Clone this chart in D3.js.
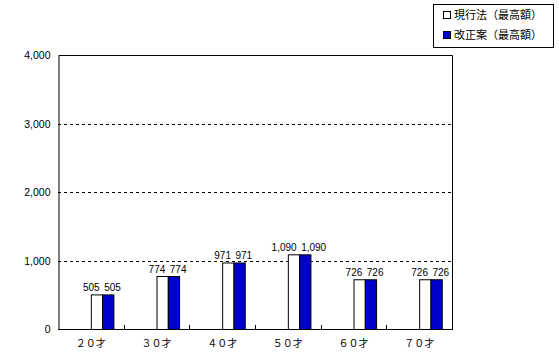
<!DOCTYPE html>
<html>
<head>
<meta charset="utf-8">
<script src="https://cdn.jsdelivr.net/npm/d3@7"></script>
<style>
body{margin:0;background:#fff;}
svg{display:block;}
text{font-family:"Liberation Sans",Arial,sans-serif;fill:#000;}
.jp{font-family:"Noto Sans CJK JP","Noto Sans",sans-serif;}
</style>
</head>
<body>
<svg id="chart" width="559" height="358"></svg>
<script>
const categories = ["２０才","３０才","４０才","５０才","６０才","７０才"];
const seriesNames = ["現行法（最高額）","改正案（最高額）"];
const currentLaw = [505, 774, 971, 1090, 726, 726];
const revision = [505, 774, 971, 1090, 726, 726];
const yTicks = [0, 1000, 2000, 3000, 4000];
const colors = ["#ffffff", "#0000cc"];

const svg = d3.select("#chart");
const pL = 58, pR = 452, pT = 55, pB = 329;

const x = d3.scaleBand().domain(categories).range([pL, pR]).padding(0);
const y = d3.scaleLinear().domain([0, 4000]).range([pB, pT]);
const fmt = d3.format(",");

// gridlines
svg.append("g").selectAll("line").data(yTicks.filter(t => t > 0 && t < 4000)).join("line")
  .attr("x1", pL).attr("x2", pR)
  .attr("y1", d => Math.round(y(d)) + 0.5).attr("y2", d => Math.round(y(d)) + 0.5)
  .attr("stroke", "#000").attr("stroke-width", 1).attr("stroke-dasharray", "3,3");

// frame: top, right
svg.append("path")
  .attr("d", `M${pL + 0.5},${pT + 0.5}H${pR + 0.5}V${pB + 0.5}`)
  .attr("fill", "none").attr("stroke", "#000");

// y axis
const yAxis = svg.append("g").attr("transform", `translate(${pL + 0.5},0.5)`)
  .call(d3.axisLeft(y).tickValues(yTicks).tickFormat(fmt).tickSize(0).tickPadding(8));
yAxis.select(".domain").attr("stroke", "#000");
yAxis.selectAll("text").attr("font-size", 10.5).style("font-family", '"Liberation Sans",Arial,sans-serif');

// x axis
const xAxis = svg.append("g").attr("transform", `translate(0,${pB + 0.5})`)
  .call(d3.axisBottom(x).tickSize(0).tickPadding(10));
xAxis.select(".domain").remove();
xAxis.selectAll("text").attr("class", "jp").attr("font-size", 10);
svg.append("line").attr("x1", pL).attr("x2", pR + 1)
  .attr("y1", pB + 0.5).attr("y2", pB + 0.5).attr("stroke", "#000");
// inward tick marks at category boundaries
svg.append("g").selectAll("line").data(categories.slice(1)).join("line")
  .attr("x1", d => Math.round(x(d)) + 0.5).attr("x2", d => Math.round(x(d)) + 0.5)
  .attr("y1", pB - 4).attr("y2", pB)
  .attr("stroke", "#000");

// bars
const bw = x.bandwidth() * 0.172;
const series = [currentLaw, revision];
series.forEach((vals, si) => {
  const g = svg.append("g");
  const cx = i => x(categories[i]) + x.bandwidth() / 2;
  const bx = i => cx(i) + si * bw;
  g.selectAll("rect").data(vals).join("rect")
    .attr("x", (d, i) => bx(i) + 0.5)
    .attr("y", d => y(d) + 0.5)
    .attr("width", bw)
    .attr("height", d => pB - y(d))
    .attr("fill", colors[si]).attr("stroke", "#000").attr("stroke-width", 1);
  g.selectAll("text").data(vals).join("text")
    .attr("x", (d, i) => cx(i) + bw + (si === 0 ? -2.5 : 2))
    .attr("y", d => y(d) - 3)
    .attr("text-anchor", si === 0 ? "end" : "start")
    .attr("font-size", 10)
    .text(d => fmt(d));
});

// legend
const lg = svg.append("g");
lg.append("rect").attr("x", 433.5).attr("y", 4.5).attr("width", 120).attr("height", 43)
  .attr("fill", "#fff").attr("stroke", "#000");
seriesNames.forEach((n, i) => {
  lg.append("rect").attr("x", 443.5).attr("y", 11.5 + i * 20).attr("width", 7).attr("height", 7)
    .attr("fill", colors[i]).attr("stroke", "#000");
  lg.append("text").attr("class", "jp").attr("x", 454).attr("y", 19 + i * 20)
    .attr("font-size", 11).text(n);
});
</script>
</body>
</html>
